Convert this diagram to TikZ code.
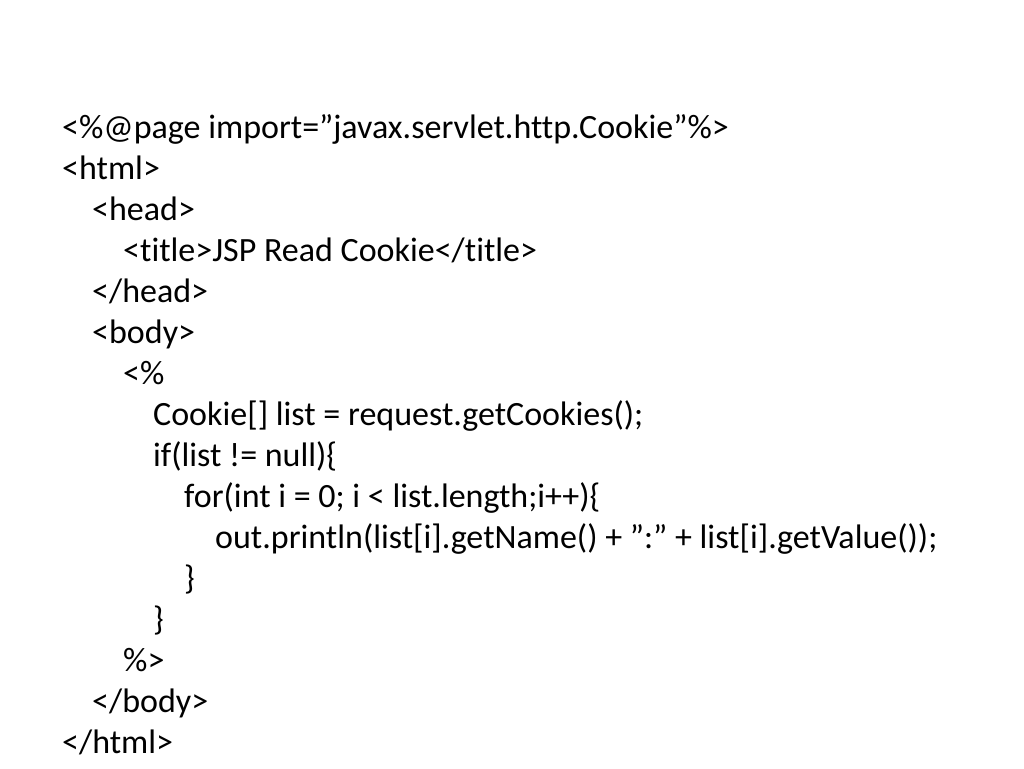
\documentclass[tikz,border=0pt]{standalone}
\usepackage{fontspec}
\setmainfont[Ligatures={NoCommon}]{Carlito}
\newcommand{\dq}{\symbol{34}}
\begin{document}
\begin{tikzpicture}[x=1pt,y=-1pt,line/.style={anchor=base west,inner sep=0pt,font=\fontsize{34}{40}\selectfont}]
\useasboundingbox (0,0) rectangle (1024,768);
\node[line] (l1) at (62,138) {<\%@page import=\dq javax.servlet.http.Cookie\dq\%>};
\node[line] (l2) at (62,179) {<html>};
\node[line] (l3) at (92,220) {<head>};
\node[line] (l4) at (123,261) {<title>JSP Read Cookie</title>};
\node[line] (l5) at (92,302) {</head>};
\node[line] (l6) at (92,343) {<body>};
\node[line] (l7) at (123,384) {<\%};
\node[line] (l8) at (153,425) {Cookie[] list = request.getCookies();};
\node[line] (l9) at (153,466) {if(list != null)\{};
\node[line] (l10) at (184,507) {for(int i = 0; i < list.length;i++)\{};
\node[line] (l11) at (215,548) {out.println(list[i].getName() + \dq:\dq\ + list[i].getValue());};
\node[line] (l12) at (184,589) {\}};
\node[line] (l13) at (153,630) {\}};
\node[line] (l14) at (123,671) {\%>};
\node[line] (l15) at (92,712) {</body>};
\node[line] (l16) at (62,753) {</html>};
\end{tikzpicture}
\end{document}
